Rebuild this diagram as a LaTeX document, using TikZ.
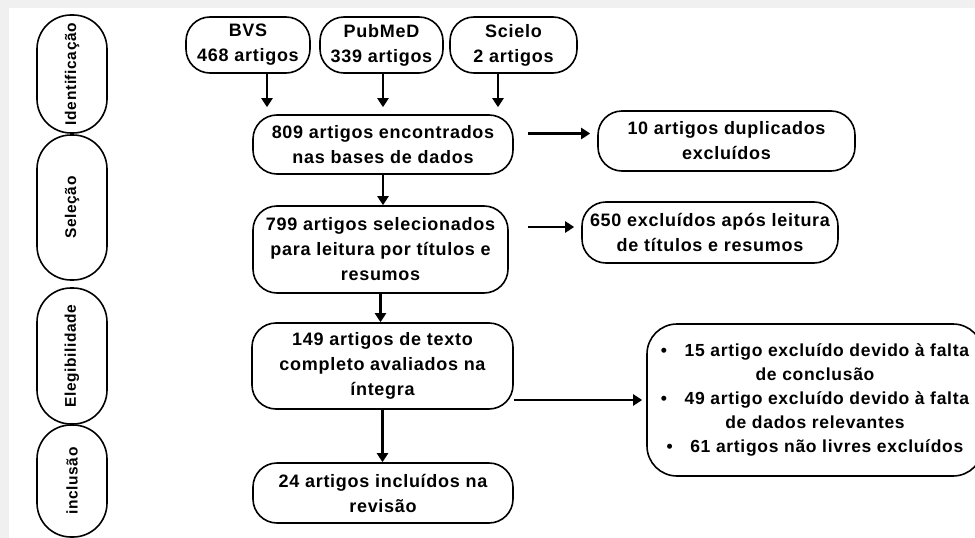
\documentclass[tikz,border=0pt]{standalone}
\usepackage{fontspec}
\setmainfont[LetterSpace=4]{Liberation Sans}
\usetikzlibrary{arrows.meta}

\begin{document}
\begin{tikzpicture}[x=1pt, y=-1pt,
    etapa/.style={draw, line width=1.6pt, rounded corners=34pt, rotate=90, minimum height=70pt, inner sep=0pt, font=\bfseries\fontsize{15.5}{18}\selectfont},
    caixa/.style={draw, line width=1.6pt, rounded corners=24pt, fill=white, align=center, inner sep=0pt, font=\bfseries\fontsize{18}{25}\selectfont},
    seta/.style={line width=2.6pt, -{Triangle[width=11pt,length=9pt]}}]
      \useasboundingbox (0,0) rectangle (975,538);
      \fill[black!6] (0,0) rectangle (975,538);
      \fill[white] (9,8) rectangle (975,538);
      % etapas
      \node[etapa, minimum width=118pt] (ident) at (72,74) {Identificação};
      \node[etapa, minimum width=145pt] (selec) at (72,207.5) {Seleção};
      \node[etapa, minimum width=136pt] (elegi) at (72,356) {Elegibilidade};
      \node[etapa, minimum width=112pt] (inclu) at (72,481) {inclusão};
      % bases
      \node[caixa, minimum width=124pt, minimum height=56pt] (bvs) at (248,45) {BVS\\468 artigos};
      \node[caixa, minimum width=123pt, minimum height=56pt] (pubmed) at (381.5,45) {PubMeD\\339 artigos};
      \node[caixa, minimum width=127pt, minimum height=56pt] (scielo) at (513.5,45) {Scielo\\2 artigos};
      % fluxo central
      \node[caixa, minimum width=260pt, minimum height=59pt] (encont) at (383,144.5) {809 artigos encontrados\\nas bases de dados};
      \node[caixa, minimum width=255pt, minimum height=87pt] (selecion) at (380.5,249.5) {799 artigos selecionados\\para leitura por títulos e\\resumos};
      \node[caixa, minimum width=261pt, minimum height=86pt] (avali) at (382.5,366) {149 artigos de texto\\completo avaliados na\\íntegra};
      \node[caixa, minimum width=260pt, minimum height=60pt] (inclui) at (383,493) {24 artigos incluídos na\\revisão};
      % excluidos
      \node[caixa, minimum width=257pt, minimum height=60pt] (duplic) at (726.5,141) {10 artigos duplicados\\excluídos};
      \node[caixa, minimum width=256pt, minimum height=61pt] (titres) at (710,232.5) {650 excluídos após leitura\\de títulos e resumos};
      \node[caixa, rounded corners=30pt, minimum width=336pt, minimum height=152pt, font=\bfseries\fontsize{17.5}{24}\selectfont] (falta) at (815,400) {\textbullet\quad 15 artigo excluído devido à falta\\de conclusão\\\textbullet\quad 49 artigo excluído devido à falta\\de dados relevantes\\\textbullet\quad 61 artigos não livres excluídos};
      % setas
      \coordinate (s1) at ([xshift=14pt,yshift=11pt]encont.east);
      \coordinate (s2) at ([xshift=19pt,yshift=22.5pt]selecion.east);
      \draw[seta, shorten >=7pt] ([xshift=19pt]bvs.south) -- ([xshift=19pt]bvs.south |- encont.north);
      \draw[seta, shorten >=7pt] ([xshift=1.5pt]pubmed.south) -- ([xshift=1.5pt]pubmed.south |- encont.north);
      \draw[seta, shorten >=7pt] ([xshift=-15.5pt]scielo.south) -- ([xshift=-15.5pt]scielo.south |- encont.north);
      \draw[seta] (encont.south) -- (encont.south |- selecion.north);
      \draw[seta] (selecion.south) -- (selecion.south |- avali.north);
      \draw[seta] (avali.south) -- (avali.south |- inclui.north);
      \draw[seta, shorten >=7pt] (s1) -- (duplic.west |- s1);
      \draw[seta, shorten >=7pt] (s2) -- (titres.west |- s2);
      \draw[seta, shorten >=4pt] (avali.east |- falta.west) -- (falta.west);
    \end{tikzpicture}
\end{document}
